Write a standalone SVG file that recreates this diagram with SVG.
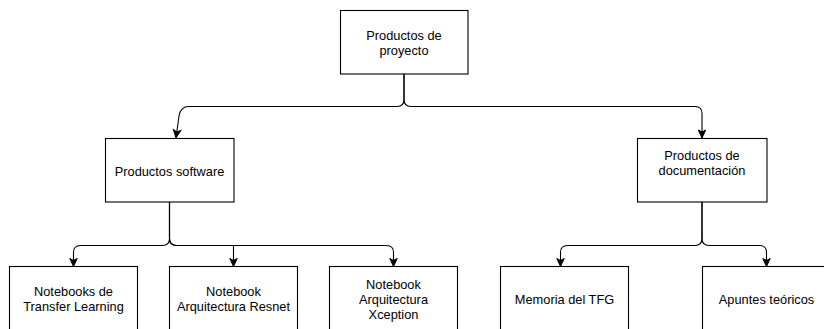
<svg xmlns="http://www.w3.org/2000/svg" width="824" height="329" viewBox="0 0 824 329">
<style>
.box{fill:#ffffff;stroke:#000000;stroke-width:1.1}
.lbl{font-family:"Liberation Sans",Arial,sans-serif;font-size:12.8px;fill:#000000;text-anchor:middle}
.edge{fill:none;stroke:#000000;stroke-width:1.1}
</style>
<defs>
<marker id="arr" markerUnits="userSpaceOnUse" markerWidth="12" markerHeight="10" viewBox="-9 -5 10 10" refX="0" refY="0" orient="auto">
<path d="M0,0 L-8,-3.7 L-6,0 L-8,3.7 Z" fill="#000000" stroke="#000000" stroke-width="1"/>
</marker>
</defs>
<rect width="824" height="329" fill="#ffffff"/>
<g id="connectors">
<path class="edge" marker-end="url(#arr)" d="M404,74 V99.5 Q404,106.5 397,106.5 H189 Q180.5,106.5 179,116 L176,138"/>
<path class="edge" marker-end="url(#arr)" d="M404,74 V99.5 Q404,106.5 411,106.5 H695 Q702,106.5 702,113.5 V138"/>
<path class="edge" marker-end="url(#arr)" d="M169.5,202 V238.5 Q169.5,245.5 162.5,245.5 H80.5 Q73.5,245.5 73.5,252.5 V266.5"/>
<path class="edge" marker-end="url(#arr)" d="M169.5,202 V238.5 Q169.5,245.5 176.5,245.5 H233.5 V266.5"/>
<path class="edge" marker-end="url(#arr)" d="M169.5,202 V238.5 Q169.5,245.5 176.5,245.5 H386.5 Q393.5,245.5 393.5,252.5 V266.5"/>
<path class="edge" marker-end="url(#arr)" d="M702,202 V238.5 Q702,245.5 695,245.5 H567.5 Q560.5,245.5 560.5,252.5 V266.5"/>
<path class="edge" marker-end="url(#arr)" d="M702,202 V238.5 Q702,245.5 709,245.5 H759.5 Q766.5,245.5 766.5,252.5 V266.5"/>
</g>
<g id="node-proyecto">
<rect class="box" x="340.5" y="10.5" width="127.5" height="63.5"/>
<text class="lbl" x="404" y="40">Productos de</text>
<text class="lbl" x="404" y="55">proyecto</text>
</g>
<g id="node-software">
<rect class="box" x="105.5" y="138.5" width="128.5" height="63.5"/>
<text class="lbl" x="169.5" y="175.5">Productos software</text>
</g>
<g id="node-documentacion">
<rect class="box" x="637.5" y="138.5" width="129.5" height="63.5"/>
<text class="lbl" x="702" y="160">Productos de</text>
<text class="lbl" x="702" y="175">documentación</text>
</g>
<g id="node-transfer">
<rect class="box" x="9.5" y="266.5" width="128" height="64"/>
<text class="lbl" x="73.5" y="296">Notebooks de</text>
<text class="lbl" x="73.5" y="311">Transfer Learning</text>
</g>
<g id="node-resnet">
<rect class="box" x="169.5" y="266.5" width="128" height="64"/>
<text class="lbl" x="233.5" y="296">Notebook</text>
<text class="lbl" x="233.5" y="311">Arquitectura Resnet</text>
</g>
<g id="node-xception">
<rect class="box" x="329.5" y="266.5" width="128" height="64"/>
<text class="lbl" x="393.5" y="289">Notebook</text>
<text class="lbl" x="393.5" y="304">Arquitectura</text>
<text class="lbl" x="393.5" y="319">Xception</text>
</g>
<g id="node-memoria">
<rect class="box" x="500.5" y="266.5" width="128" height="64"/>
<text class="lbl" x="564.5" y="304">Memoria del TFG</text>
</g>
<g id="node-apuntes">
<rect class="box" x="702.5" y="266.5" width="128" height="64"/>
<text class="lbl" x="766.5" y="304">Apuntes teóricos</text>
</g>
</svg>
